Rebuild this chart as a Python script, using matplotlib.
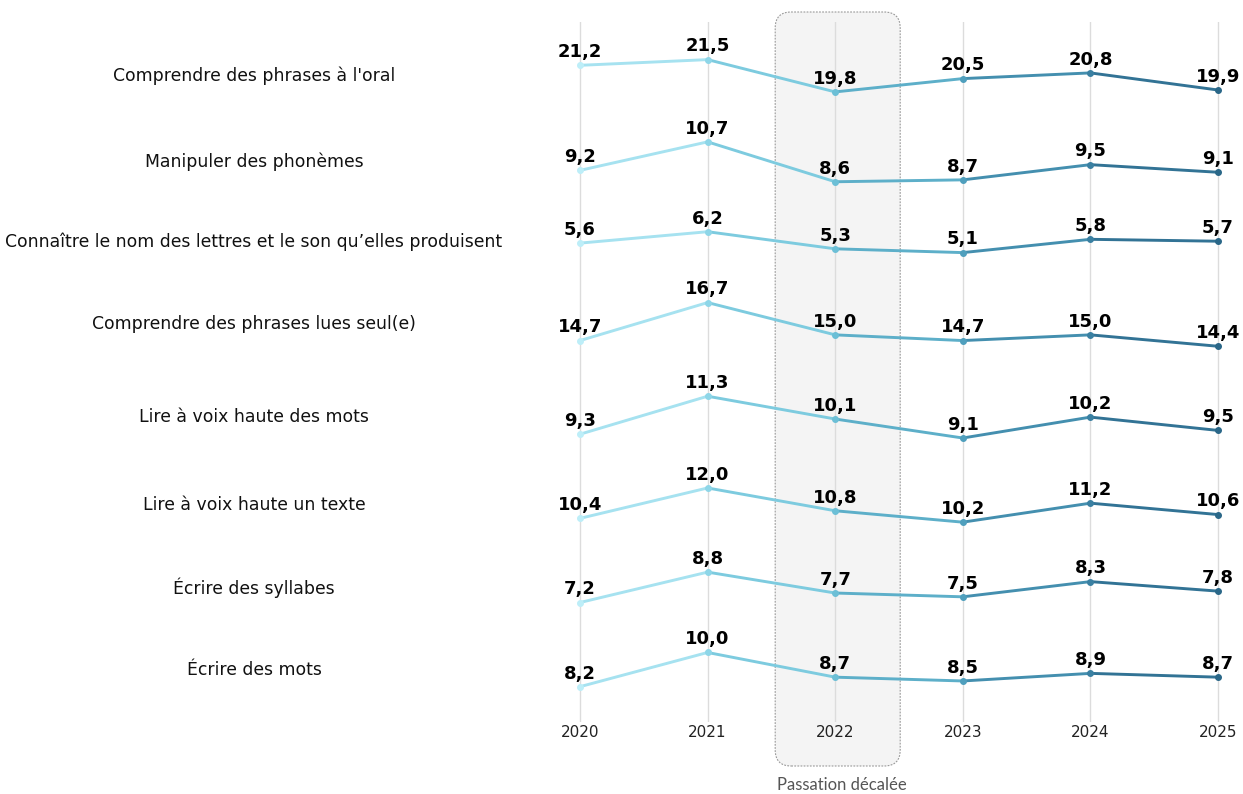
import matplotlib
matplotlib.use("Agg")
import matplotlib.pyplot as plt
from matplotlib.collections import LineCollection
from matplotlib.colors import LinearSegmentedColormap
from matplotlib.patches import FancyBboxPatch
from matplotlib.transforms import IdentityTransform, blended_transform_factory

plt.rcParams["font.family"] = ["DejaVu Sans"]

years = [2020, 2021, 2022, 2023, 2024, 2025]

skills = [
    "Comprendre des phrases à l'oral",
    "Manipuler des phonèmes",
    "Connaître le nom des lettres et le son qu\u2019elles produisent",
    "Comprendre des phrases lues seul(e)",
    "Lire à voix haute des mots",
    "Lire à voix haute un texte",
    "Écrire des syllabes",
    "Écrire des mots",
]

oral = [21.2, 21.5, 19.8, 20.5, 20.8, 19.9]
phonemes = [9.2, 10.7, 8.6, 8.7, 9.5, 9.1]
lettres = [5.6, 6.2, 5.3, 5.1, 5.8, 5.7]
phrases_lues = [14.7, 16.7, 15.0, 14.7, 15.0, 14.4]
mots_voix = [9.3, 11.3, 10.1, 9.1, 10.2, 9.5]
texte_voix = [10.4, 12.0, 10.8, 10.2, 11.2, 10.6]
syllabes = [7.2, 8.8, 7.7, 7.5, 8.3, 7.8]
ecrire_mots = [8.2, 10.0, 8.7, 8.5, 8.9, 8.7]

series = [oral, phonemes, lettres, phrases_lues, mots_voix, texte_voix, syllabes, ecrire_mots]

W, H = 1243, 794
fig = plt.figure(figsize=(W / 100, H / 100), dpi=100)

# axes placed in pixels: years 2020..2025 from x=580 to 1218, grid from y=22 to 722
px_per_year = (1218 - 580) / 5
x0 = 580 - 0.1 * px_per_year
x1 = 1218 + 0.1 * px_per_year
ax = fig.add_axes([x0 / W, (H - 722) / H, (x1 - x0) / W, 700 / H])
ax.patch.set_visible(False)
ax.set_xlim(2019.9, 2025.1)

# stack rows from the bottom up with a constant gap
gap = 2.63
offsets = [0.0] * len(series)
top = None
for i in range(len(series) - 1, -1, -1):
    if top is None:
        offsets[i] = 0.0
    else:
        offsets[i] = top + gap - min(series[i])
    top = max(series[i]) + offsets[i]

ax.set_ylim(min(series[-1]) + offsets[-1] - 1.86, max(series[0]) + offsets[0] + 1.98)

cmap = LinearSegmentedColormap.from_list(
    "teal", ["#bdeef8", "#8ed6e8", "#6cbfd6", "#4f9fbd", "#3a80a2", "#2a6788"])

for yr in years:
    ax.axvline(yr, color="#dcdcdc", lw=1, zorder=1)

for vals, off in zip(series, offsets):
    ys = [v + off for v in vals]
    segs = [[(years[k], ys[k]), (years[k + 1], ys[k + 1])] for k in range(len(years) - 1)]
    cols = [cmap((k + 0.5) / (len(years) - 1)) for k in range(len(years) - 1)]
    ax.add_collection(LineCollection(segs, colors=cols, linewidths=2.1, capstyle="round", zorder=3))
    for k, (yr, y, v) in enumerate(zip(years, ys, vals)):
        ax.plot(yr, y, "o", ms=4, color=cmap(k / (len(years) - 1)), zorder=4)
        ax.annotate(f"{v:.1f}".replace(".", ","), (yr, y), xytext=(0, 3),
                    textcoords="offset points", ha="center", va="bottom",
                    fontsize=13, fontweight="bold", color="black", zorder=5)

# skill labels, centred on the middle of each row's range
trans = blended_transform_factory(fig.transFigure, ax.transData)
for name, vals, off in zip(skills, series, offsets):
    ymid = (min(vals) + max(vals)) / 2 + off
    ax.text(254 / W, ymid, name, transform=trans, ha="center", va="center",
            fontsize=12.4, color="#111111")

ax.set_xticks(years)
ax.set_xticklabels([str(y) for y in years], fontsize=11, color="#222222")
ax.tick_params(axis="x", length=0, pad=2.5)
ax.set_yticks([])
for s in ax.spines.values():
    s.set_visible(False)

# shaded box for 2022
cx = ax.transData.transform((2022, 0))[0]
box = FancyBboxPatch((cx - 60, H - 766), 125, 754,
                     boxstyle="round,pad=0,rounding_size=16",
                     transform=IdentityTransform(), facecolor="#f4f4f4",
                     edgecolor="#999999", linestyle=(0, (1.6, 1.2)), linewidth=0.8,
                     zorder=-1)
fig.patches.append(box)
fig.text((cx + 7) / W, (H - 785) / H, "Passation décalée", ha="center", va="center",
         fontsize=12, color="#555555", family="Lato")

fig.savefig("out.png", dpi=100)
